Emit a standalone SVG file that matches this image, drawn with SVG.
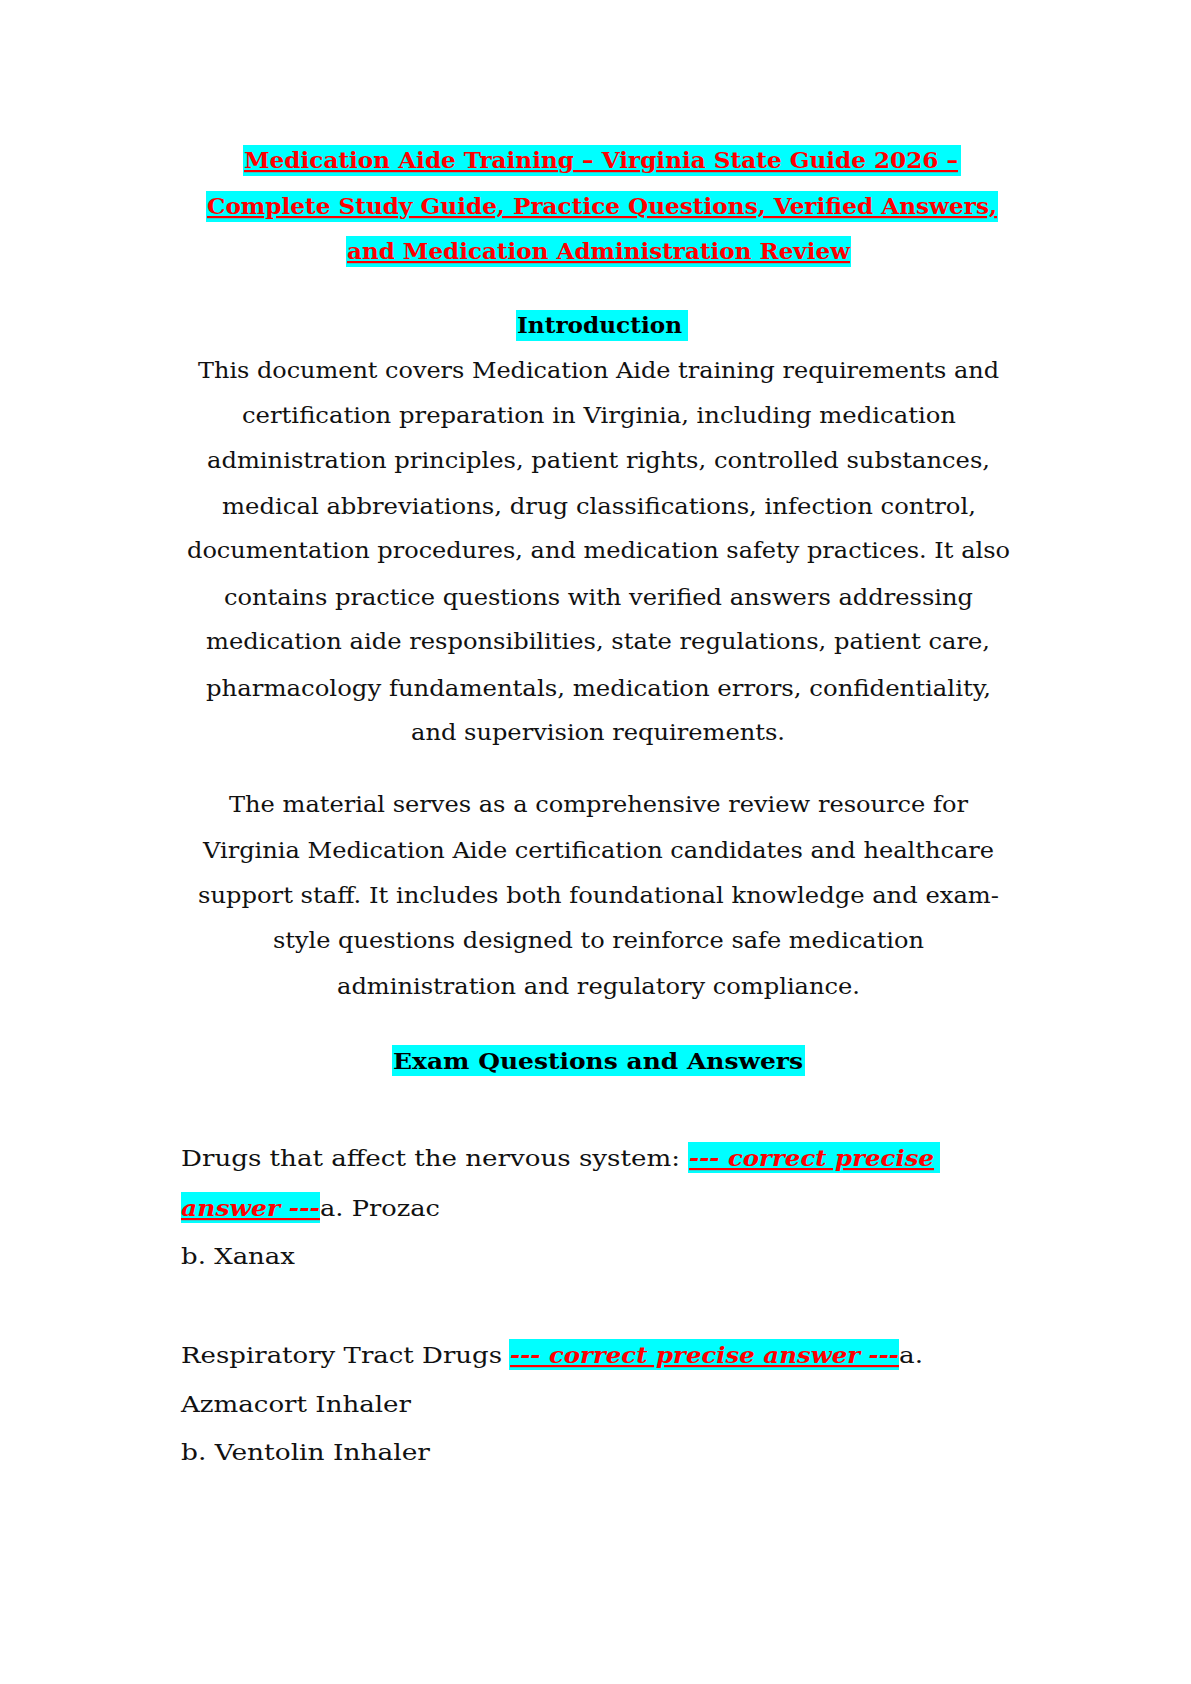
<svg xmlns="http://www.w3.org/2000/svg" width="1191" height="1684" viewBox="0 0 1191 1684">
<style>
text{font-family:"DejaVu Serif","Liberation Serif",serif;font-size:22px;fill:#111}
.t{font-weight:bold;fill:#f00;text-decoration:underline}
.h{font-weight:bold;fill:#000}
.a{font-weight:bold;font-style:italic;fill:#f00;text-decoration:underline}
.c{text-anchor:start}
rect{fill:#00ffff}
</style>
<rect width="1191" height="1684" fill="#fff" style="fill:#fff"/>
<g id="title">
<rect x="243" y="145" width="718" height="31"/>
<rect x="206" y="191" width="792" height="31"/>
<rect x="346" y="236" width="505" height="31"/>
<text class="t" x="244" y="168" textLength="714" lengthAdjust="spacingAndGlyphs">Medication Aide Training – Virginia State Guide 2026 – </text>
<text class="t" x="207" y="214" textLength="790" lengthAdjust="spacingAndGlyphs">Complete Study Guide, Practice Questions, Verified Answers, </text>
<text class="t" x="347" y="259" textLength="503" lengthAdjust="spacingAndGlyphs">and Medication Administration Review</text>
</g>
<g id="intro">
<rect x="516" y="310" width="172" height="31"/>
<text class="h" x="517" y="333" textLength="165" lengthAdjust="spacingAndGlyphs">Introduction</text>
<text x="198" y="378" textLength="801" lengthAdjust="spacingAndGlyphs">This document covers Medication Aide training requirements and</text>
<text x="242" y="423" textLength="714" lengthAdjust="spacingAndGlyphs">certification preparation in Virginia, including medication</text>
<text x="207" y="468" textLength="783" lengthAdjust="spacingAndGlyphs">administration principles, patient rights, controlled substances,</text>
<text x="222" y="514" textLength="754" lengthAdjust="spacingAndGlyphs">medical abbreviations, drug classifications, infection control,</text>
<text x="187" y="558" textLength="823" lengthAdjust="spacingAndGlyphs">documentation procedures, and medication safety practices. It also</text>
<text x="224" y="605" textLength="749" lengthAdjust="spacingAndGlyphs">contains practice questions with verified answers addressing</text>
<text x="206" y="649" textLength="784" lengthAdjust="spacingAndGlyphs">medication aide responsibilities, state regulations, patient care,</text>
<text x="206" y="696" textLength="785" lengthAdjust="spacingAndGlyphs">pharmacology fundamentals, medication errors, confidentiality,</text>
<text x="411" y="740" textLength="374" lengthAdjust="spacingAndGlyphs">and supervision requirements.</text>
<text x="229" y="812" textLength="739" lengthAdjust="spacingAndGlyphs">The material serves as a comprehensive review resource for</text>
<text x="203" y="858" textLength="791" lengthAdjust="spacingAndGlyphs">Virginia Medication Aide certification candidates and healthcare</text>
<text x="198" y="903" textLength="801" lengthAdjust="spacingAndGlyphs">support staff. It includes both foundational knowledge and exam-</text>
<text x="273" y="948" textLength="651" lengthAdjust="spacingAndGlyphs">style questions designed to reinforce safe medication</text>
<text x="337" y="994" textLength="523" lengthAdjust="spacingAndGlyphs">administration and regulatory compliance.</text>
</g>
<g id="exam">
<rect x="392" y="1045" width="413" height="31"/>
<text class="h" x="393" y="1069" textLength="410" lengthAdjust="spacingAndGlyphs">Exam Questions and Answers</text>
</g>
<g id="q1">
<rect x="688" y="1142" width="252" height="31"/>
<rect x="181" y="1192" width="139" height="31"/>
<text x="181" y="1166" textLength="499" lengthAdjust="spacingAndGlyphs">Drugs that affect the nervous system: </text>
<text class="a" x="689" y="1166" textLength="245" lengthAdjust="spacingAndGlyphs">--- correct precise </text>
<text class="a" x="181" y="1216" textLength="139" lengthAdjust="spacingAndGlyphs">answer ---</text>
<text x="320" y="1216" textLength="120" lengthAdjust="spacingAndGlyphs">a. Prozac</text>
<text x="181" y="1264" textLength="114" lengthAdjust="spacingAndGlyphs">b. Xanax</text>
</g>
<g id="q2">
<rect x="509" y="1339" width="390" height="31"/>
<text x="181" y="1363" textLength="321" lengthAdjust="spacingAndGlyphs">Respiratory Tract Drugs </text>
<text class="a" x="510" y="1363" textLength="389" lengthAdjust="spacingAndGlyphs">--- correct precise answer ---</text>
<text x="899" y="1363" textLength="24" lengthAdjust="spacingAndGlyphs">a.</text>
<text x="181" y="1412" textLength="230" lengthAdjust="spacingAndGlyphs">Azmacort Inhaler</text>
<text x="181" y="1460" textLength="249" lengthAdjust="spacingAndGlyphs">b. Ventolin Inhaler</text>
</g>
<g id="connectors"/>
</svg>
